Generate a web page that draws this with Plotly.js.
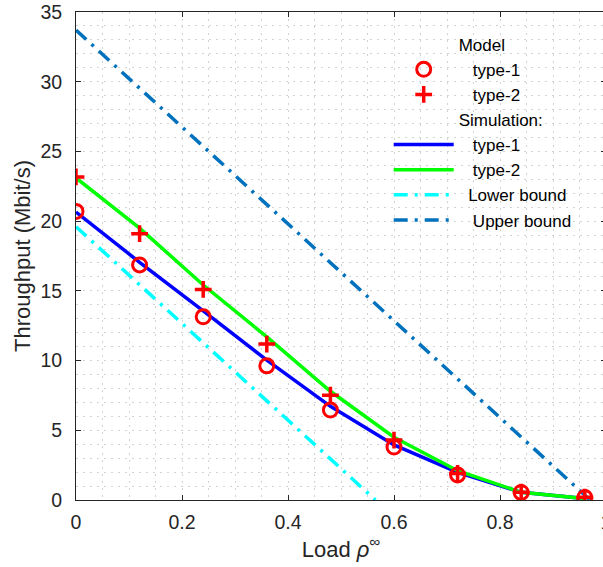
<!DOCTYPE html>
<html>
<head>
<meta charset="utf-8">
<script src="https://cdn.plot.ly/plotly-3.0.1.min.js"></script>
<style>
html,body{margin:0;padding:0;overflow:hidden;background:#fff;}
#chart{width:640px;height:567px;}
</style>
</head>
<body>
<div id="chart"></div>
<script>
// Data
const loads = [0, 0.12, 0.24, 0.36, 0.48, 0.60, 0.72, 0.84, 0.96];
const modelType1 = [20.7, 16.86, 13.14, 9.62, 6.45, 3.80, 1.80, 0.54, 0.18];
const modelType2 = [23.17, 19.1, 15.1, 11.18, 7.52, 4.3, 1.9, 0.56, 0.2];
const simType1 = [20.65, 17.05, 13.57, 10.03, 6.72, 3.95, 1.98, 0.55, 0.1];
const simType2 = [23.1, 19.5, 15.42, 11.7, 7.8, 4.5, 2.1, 0.55, 0.1];
const lowerX = [0, 0.565];
const lowerY = [19.6, 0];
const upperX = [0, 0.97];
const upperY = [33.7, 0];
const xTicks = [0, 0.2, 0.4, 0.6, 0.8, 1];
const yTicks = [0, 5, 10, 15, 20, 25, 30, 35];

const NB = '\u00a0';
const red = '#ff0000';
const FONT = 'Liberation Sans, Arial, sans-serif';
const dashDot = '14px,7px,3px,7px';

const hdrModel = {x: [null], y: [null], mode: 'lines', name: 'Model', line: {color: 'rgba(0,0,0,0)', width: 0}, hoverinfo: 'skip', legendrank: 1};
const mType1 = {x: loads, y: modelType1, mode: 'markers', name: NB+NB+NB+'type-1', legendrank: 2,
  marker: {symbol: 'circle-open', size: 14, color: red, line: {width: 3, color: red}}};
const mType2 = {x: loads, y: modelType2, mode: 'markers', name: NB+NB+NB+'type-2', legendrank: 3,
  marker: {symbol: 'cross-thin-open', size: 12, color: red, line: {width: 3.5, color: red}}};
const hdrSim = {x: [null], y: [null], mode: 'lines', name: 'Simulation:', line: {color: 'rgba(0,0,0,0)', width: 0}, hoverinfo: 'skip', legendrank: 4};
const sType1 = {x: loads, y: simType1, mode: 'lines', name: NB+NB+NB+'type-1', legendrank: 5, line: {color: '#0000ff', width: 3.5}};
const sType2 = {x: loads, y: simType2, mode: 'lines', name: NB+NB+NB+'type-2', legendrank: 6, line: {color: '#00ff00', width: 3.5}};
const lower = {x: lowerX, y: lowerY, mode: 'lines', name: NB+NB+'Lower bound', legendrank: 7, line: {color: '#00ffff', width: 3.5, dash: dashDot}};
const upper = {x: upperX, y: upperY, mode: 'lines', name: NB+NB+NB+'Upper bound', legendrank: 8, line: {color: '#0072bd', width: 3.5, dash: dashDot}};

const gridc = '#d2d2d2';
const gdash = '2px,5px';
const axisCommon = {
  showline: true, linecolor: '#262626', linewidth: 1, mirror: 'ticks',
  ticks: 'inside', ticklen: 5, tickcolor: '#262626', tickwidth: 1,
  showgrid: true, gridcolor: gridc, griddash: gdash, gridwidth: 1,
  zeroline: false,
  tickfont: {family: FONT, size: 19.5, color: '#262626'}
};

const layout = {
  width: 640, height: 567,
  margin: {l: 76, r: 34, t: 12, b: 67},
  paper_bgcolor: '#fff', plot_bgcolor: '#fff',
  font: {family: FONT, color: '#262626'},
  xaxis: Object.assign({}, axisCommon, {
    range: [0, 1], tickvals: xTicks, ticktext: xTicks.map(String),
    ticklabelstandoff: 5,
    minor: {dtick: 0.05, showgrid: true, gridcolor: gridc, griddash: gdash, gridwidth: 1, ticks: ''},
    title: {text: 'Load <i>ρ</i><sup>∞</sup>', font: {size: 22, color: '#262626'}, standoff: 6}
  }),
  yaxis: Object.assign({}, axisCommon, {
    range: [0, 35], tickvals: yTicks, ticktext: yTicks.map(String),
    ticklabelstandoff: 9,
    minor: {dtick: 1, showgrid: true, gridcolor: gridc, griddash: gdash, gridwidth: 1, ticks: ''},
    title: {text: 'Throughput (Mbit/s)', font: {size: 22, color: '#262626'}, standoff: 3}
  }),
  showlegend: true,
  legend: {
    x: 0.59, y: 0.97, xanchor: 'left', yanchor: 'top',
    bgcolor: 'rgba(255,255,255,0)', borderwidth: 0,
    font: {size: 17, color: '#000', family: FONT},
    itemwidth: 60, tracegroupgap: 0, traceorder: 'normal'
  }
};

const allData = [hdrModel, hdrSim, lower, upper, sType1, sType2, mType1, mType2];
Plotly.newPlot('chart', allData, layout, {displayModeBar: false, staticPlot: true});
</script>
</body>
</html>
